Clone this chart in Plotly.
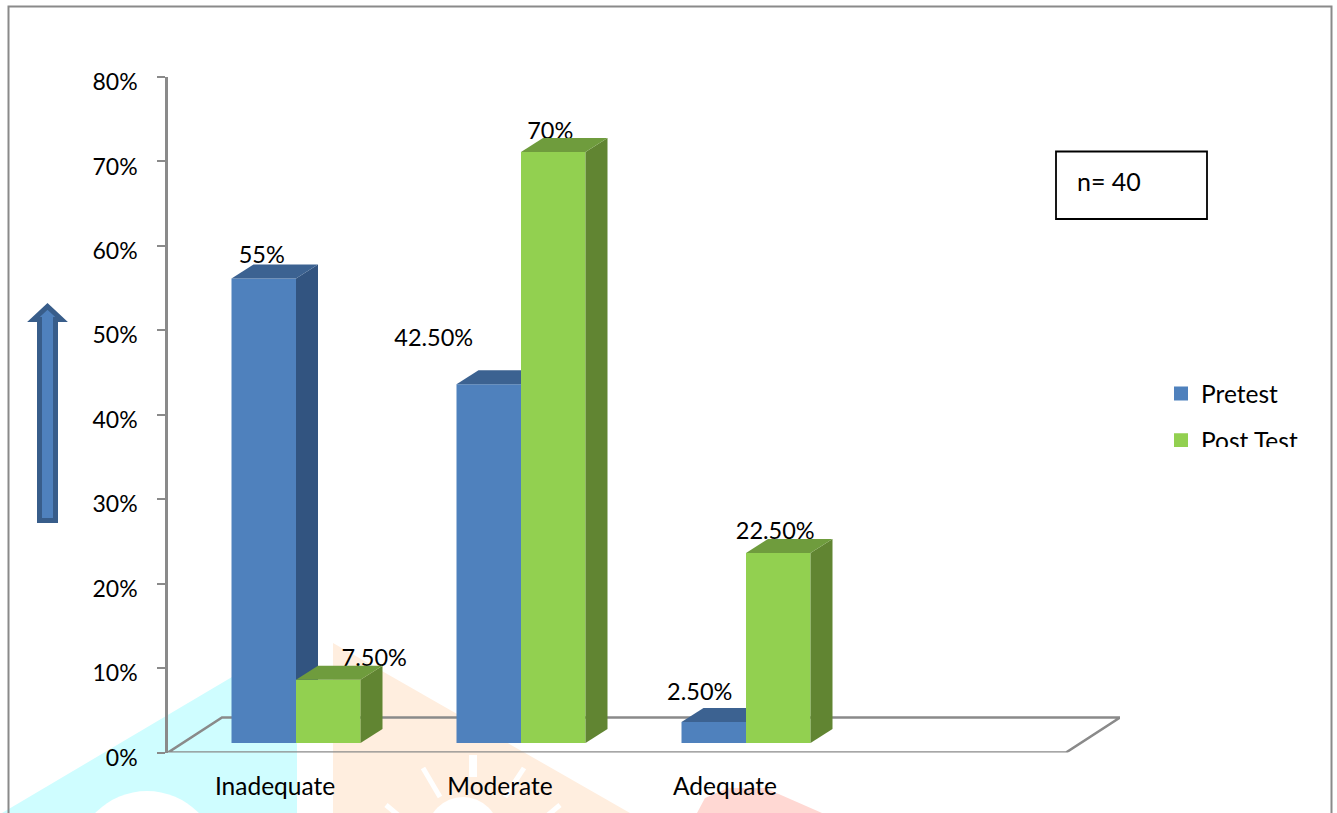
import plotly.graph_objects as go

W, H = 1337, 813

# ---- data ----
categories = ["Inadequate", "Moderate", "Adequate"]
pretest = [55, 42.5, 2.5]
posttest = [7.5, 70, 22.5]
pretest_labels = ["55%", "42.50%", "2.50%"]
posttest_labels = ["7.50%", "70%", "22.50%"]
y_ticks = [0, 10, 20, 30, 40, 50, 60, 70, 80]
y_tick_labels = ["0%", "10%", "20%", "30%", "40%", "50%", "60%", "70%", "80%"]

# ---- appearance ----
FONT = "Lato"
FS_TICK = 23
FS_VAL = 23.5
FS_TEXT = 24.5
BLUE, BLUE_SIDE, BLUE_TOP = "#4f81bd", "#325480", "#3c6291"
GREEN, GREEN_SIDE, GREEN_TOP = "#92d050", "#618532", "#6f9c3d"
GREY = "#8a8a8a"

# layout in pixels
AX_L, AX_R, AX_B, AX_T = 168, 1120, 752.5, 77
PX_Y = (AX_B - AX_T) / 80      # pixels per percentage point
PX_X = 225                     # pixels per category
ORIGIN_X = 296                 # where category 0 lies
LIFT = 9.5 / PX_Y              # bars stand this far above the axis zero
BAR_W = 64.5 / PX_X
EDGE = 2                       # outline of a bar, in pixels; also sizes its legend key
DX, DY = 22 / PX_X, 14 / PX_Y  # oblique depth of a column


def px(x):
    return x / W


def py(y):
    return 1 - y / H


x_range = [(AX_L - ORIGIN_X) / PX_X, (AX_R - ORIGIN_X) / PX_X]
bar_range = [-LIFT, 80 - LIFT]
xs = list(range(len(categories)))


def faces(values, left_off, color_top, color_side, yaxis):
    """Oblique top and side faces of the columns, derived from the values."""
    out = []
    for i, v in zip(xs, values):
        l, r = i + left_off, i + left_off + BAR_W
        out.append(go.Scatter(x=[r, r + DX, r + DX, r, r], y=[0, DY, v + DY, v, 0], mode="lines",
                              fill="toself", fillcolor=color_side, line=dict(width=0),
                              yaxis=yaxis, showlegend=False, hoverinfo="skip", cliponaxis=False))
        out.append(go.Scatter(x=[l, l + DX, r + DX, r, l], y=[v, v + DY, v + DY, v, v], mode="lines",
                              fill="toself", fillcolor=color_top, line=dict(width=0),
                              yaxis=yaxis, showlegend=False, hoverinfo="skip", cliponaxis=False))
    return out


def value_labels(values, texts, left_off, dx_px, dy_px, yaxis):
    return go.Scatter(
        x=[i + left_off + BAR_W / 2 + d / PX_X for i, d in zip(xs, dx_px)],
        y=[v + d / PX_Y for v, d in zip(values, dy_px)],
        text=texts, mode="text", textposition="middle center",
        textfont=dict(family=FONT, size=FS_VAL, color="#000000"),
        yaxis=yaxis, showlegend=False, hoverinfo="skip", cliponaxis=False)


def front(values, name, color, left_off, yaxis, group):
    # the outline adds EDGE/2 px on each side, so the body is narrowed by the same amount
    trim_x = EDGE / 2 / PX_X
    trim_y = EDGE / 2 / PX_Y
    return go.Bar(x=xs, y=[v - 2 * trim_y for v in values], base=trim_y, name=name,
                  width=BAR_W - 2 * trim_x, offset=left_off + trim_x,
                  marker=dict(color=color, line=dict(width=EDGE, color=color)),
                  yaxis=yaxis, legendgroup=group)


fig = go.Figure()

# floor of the 3-D chart, on the visible axes
floor_depth_x = 54 / PX_X
floor_depth_y = 35 / PX_Y
fx0, fx1 = x_range[0], (1066 - ORIGIN_X) / PX_X
fig.add_trace(go.Scatter(
    x=[fx0, fx1, fx1 + floor_depth_x, fx0 + floor_depth_x, fx0],
    y=[0, 0, floor_depth_y, floor_depth_y, 0],
    mode="lines", line=dict(color=GREY, width=2.6), showlegend=False,
    hoverinfo="skip", cliponaxis=False))

# Pretest layer
fig.add_trace(front(pretest, "Pretest", BLUE, -BAR_W, "y2", "a"))
fig.add_trace(value_labels(pretest, pretest_labels, -BAR_W, [-2, -55, -14], [21, 44, 28], "y2"))
for t in faces(pretest, -BAR_W, BLUE_TOP, BLUE_SIDE, "y2"):
    fig.add_trace(t)

# Post Test layer
fig.add_trace(front(posttest, "Post Test", GREEN, 0, "y3", "b"))
fig.add_trace(value_labels(posttest, posttest_labels, 0, [46, -3, -3], [20, 19, 20], "y3"))
for t in faces(posttest, 0, GREEN_TOP, GREEN_SIDE, "y3"):
    fig.add_trace(t)


def poly(points, color):
    path = "M" + "L".join(f"{px(x)},{py(y)}" for x, y in points) + "Z"
    return dict(type="path", xref="paper", yref="paper", path=path, fillcolor=color,
                line=dict(width=0), layer="below")


def circle(cx, cy, r, color):
    return dict(type="circle", xref="paper", yref="paper", x0=px(cx - r), x1=px(cx + r),
                y0=py(cy + r), y1=py(cy - r), fillcolor=color, line=dict(width=0), layer="below")


def stroke(x0, y0, x1, y1, w=5):
    return dict(type="line", xref="paper", yref="paper", x0=px(x0), y0=py(y0), x1=px(x1), y1=py(y1),
                line=dict(color="#ffffff", width=w), layer="below")


CYAN, ORANGE, PINK = "#cffdff", "#ffeedf", "#ffd8d3"
shapes = [
    # faint watermark behind the chart
    poly([(2, 813), (232, 677), (297, 677), (297, 813)], CYAN),
    circle(147, 863, 72, "#ffffff"),
    poly([(333, 813), (333, 643), (630, 813)], ORANGE),
    circle(463, 833, 36, "#ffffff"),
    stroke(473, 755, 473, 777, 8),
    stroke(423, 768, 440, 797),
    stroke(524, 768, 505, 797),
    stroke(386, 805, 398, 815),
    stroke(560, 805, 548, 815),
    poly([(697, 813), (705, 798), (728, 788), (765, 788), (822, 813)], PINK),
    # outer frame
    dict(type="rect", xref="paper", yref="paper", x0=px(8.5), x1=px(1331.5), y0=py(830), y1=py(6.5),
         line=dict(color=GREY, width=2), fillcolor="rgba(0,0,0,0)", layer="below"),
    # n box
    dict(type="rect", xref="paper", yref="paper", x0=px(1056), x1=px(1207), y0=py(219), y1=py(151.5),
         line=dict(color="#000000", width=1.8), fillcolor="#ffffff"),
    # upward arrow
    dict(type="path", xref="paper", yref="paper",
         path="M" + "L".join(f"{px(x)},{py(y)}" for x, y in
                             [(39.5, 520.5), (39.5, 319.5), (33.5, 319.5), (47.5, 306.5), (61.5, 319.5), (55.5, 319.5), (55.5, 520.5)]) + "Z",
         fillcolor=BLUE, line=dict(color="#385d8a", width=5)),
]

annotations = [
    dict(text="n= 40", xref="paper", yref="paper", x=px(1075), y=py(180.5), xanchor="left", yanchor="middle",
         showarrow=False, font=dict(family=FONT, size=FS_TEXT + 0.5, color="#000000")),
    # the legend is cut off in the reference just below its second row
    dict(text=" ", xref="paper", yref="paper", x=px(1160), y=py(447), xanchor="left", yanchor="top",
         width=170, height=40, bgcolor="#ffffff", showarrow=False, borderpad=0, borderwidth=0,
         font=dict(size=10)),
]

fig.update_layout(
    width=W, height=H, margin=dict(l=0, r=0, t=0, b=0, pad=0, autoexpand=False),
    paper_bgcolor="#ffffff", plot_bgcolor="rgba(0,0,0,0)",
    font=dict(family=FONT, size=FS_TICK, color="#000000"),
    barmode="overlay",
    shapes=shapes, annotations=annotations,
    xaxis=dict(domain=[px(AX_L), px(AX_R)], range=x_range, tickmode="array", tickvals=xs,
               ticktext=categories, showgrid=False, zeroline=False, showline=False, ticks="",
               ticklabelshift=-21, ticklabelstandoff=17, tickfont=dict(family=FONT, size=FS_TEXT)),
    yaxis=dict(domain=[py(AX_B), py(AX_T)], range=[0, 80], tickmode="array", tickvals=y_ticks,
               ticktext=y_tick_labels, showgrid=False, zeroline=False, showline=True,
               linecolor=GREY, linewidth=2.6, ticks="outside", ticklen=8, tickwidth=2, tickcolor=GREY,
               ticklabelshift=5, ticklabelstandoff=15, tickfont=dict(family=FONT, size=FS_TICK)),
    yaxis2=dict(overlaying="y", range=bar_range, visible=False),
    yaxis3=dict(overlaying="y", range=bar_range, visible=False),
    legend=dict(x=px(1161), y=py(371), xanchor="left", yanchor="top", bgcolor="rgba(0,0,0,0)",
                traceorder="grouped", tracegroupgap=12, itemwidth=30, font=dict(family=FONT, size=FS_TEXT)),
)

fig.write_html("out.html", config={"displayModeBar": False},
               post_script="document.body.style.margin='0';")
